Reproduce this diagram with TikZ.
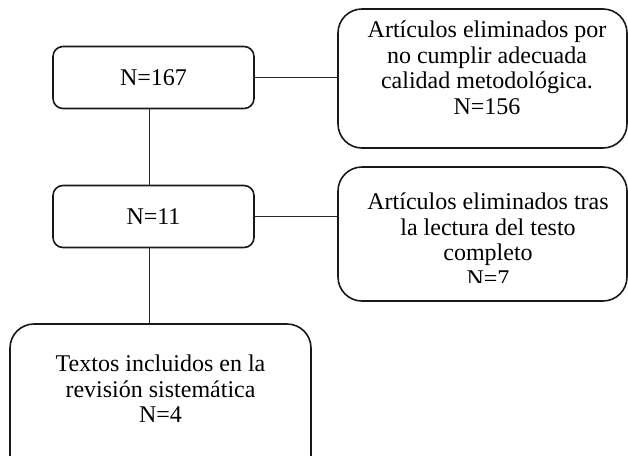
\documentclass[tikz,border=0pt]{standalone}
\usepackage{fontspec}
\setmainfont{Liberation Serif}
\begin{document}
\begin{tikzpicture}[x=1pt,y=-1pt,
  box/.style={draw=black!90, line width=1.6pt, rounded corners=10pt, inner sep=0pt},
  bigbox/.style={draw=black!90, line width=1.6pt, rounded corners=24pt, inner sep=0pt},
  txt/.style={align=center, inner sep=0pt, font=\fontsize{24}{25.5}\selectfont},
  link/.style={draw=black!85, line width=1pt}]
\useasboundingbox (0,0) rectangle (628,455);
% left boxes
\node[box, minimum width=201pt, minimum height=62pt, txt] (n1) at (153.5,77.5) {N=167};
\node[box, minimum width=201pt, minimum height=62pt, txt] (n2) at (153.5,216.5) {N=11};
% right boxes
\draw[bigbox] (338,9) rectangle (627,148);
\node[txt] (r1) at (487,68) {Artículos eliminados por\\no cumplir adecuada\\calidad metodológica.\\N=156};
\coordinate (r1w) at (338,77.5);
\draw[bigbox] (338,167) rectangle (627,301);
\begin{scope}
\clip (338,167) rectangle (627,282);
\node[txt, anchor=north] (r2) at (488,193) {Artículos eliminados tras\\la lectura del testo\\completo\\N=7};
\end{scope}
\coordinate (r2w) at (338,216.5);
% bottom box
\draw[bigbox] (10,324) rectangle (311,480);
\node[txt] (b3) at (160.5,389) {Textos incluidos en la\\revisión sistemática\\N=4};
\coordinate (b3n) at (149,324);
% connectors
\draw[link] (n1.east) -- (r1w);
\draw[link] (n2.east) -- (r2w);
\draw[link] (n1.south -| b3n) -- (n2.north -| b3n);
\draw[link] (n2.south -| b3n) -- (b3n);
\end{tikzpicture}
\end{document}
